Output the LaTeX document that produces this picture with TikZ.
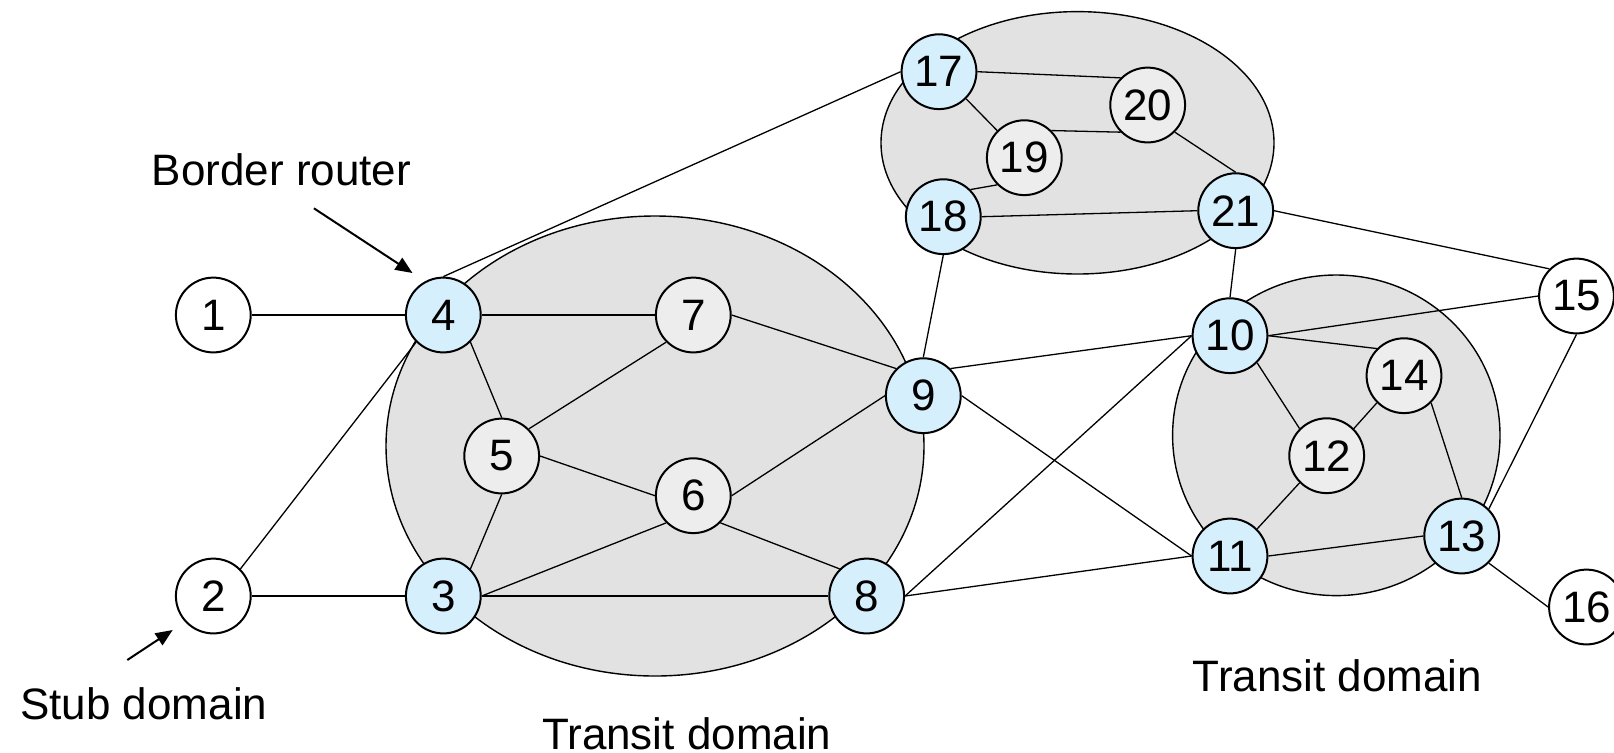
\documentclass[tikz,border=0pt]{standalone}
\usepackage{fontspec}
\setmainfont{Liberation Sans}
\usetikzlibrary{arrows.meta}
\definecolor{routerblue}{RGB}{214,239,252}
\definecolor{domaingray}{RGB}{226,226,226}
\definecolor{innergray}{RGB}{237,237,237}
\tikzset{
  router/.style={circle, draw=black, line width=1pt, minimum size=37.4pt, inner sep=0pt,
    font=\fontsize{22}{26}\selectfont},
  border/.style={router, fill=routerblue},
  interior/.style={router, fill=innergray},
  stubnode/.style={router, fill=white},
  domainshape/.style={draw=black, line width=0.7pt, fill=domaingray},
  link/.style={draw=black, line width=0.65pt},
  pointer/.style={draw=black, line width=1pt, -{Triangle[length=8.5pt,width=7pt]}},
  caption/.style={anchor=base, inner sep=0pt, font=\fontsize{22}{26}\selectfont},
}
\begin{document}
\begin{tikzpicture}[x=0.5pt, y=-0.5pt]
\useasboundingbox (0,0) rectangle (1614,752);
\clip (0,0) rectangle (1614,752);

% domains
\draw[domainshape] (655,446) ellipse [x radius=134.5pt, y radius=115pt];
\draw[domainshape] (1077.5,142.8) ellipse [x radius=98.25pt, y radius=65.6pt];
\draw[domainshape] (1336.3,435.3) ellipse [x radius=81.85pt, y radius=80.15pt];

% routers
\node[stubnode] (n1) at (213.3,315) {1};
\node[stubnode] (n2) at (213.3,596) {2};
\node[border] (n3) at (443.3,596) {3};
\node[border] (n4) at (443.3,315) {4};
\node[interior] (n5) at (501.7,456) {5};
\node[interior] (n6) at (693.3,495.7) {6};
\node[interior] (n7) at (693.3,315) {7};
\node[border] (n8) at (866.7,596) {8};
\node[border] (n9) at (923.3,395.7) {9};
\node[border] (n10) at (1230,335.7) {10};
\node[border] (n11) at (1230,556) {11};
\node[interior] (n12) at (1326.7,455.7) {12};
\node[border] (n13) at (1461.7,536) {13};
\node[interior] (n14) at (1404,375.7) {14};
\node[stubnode] (n15) at (1576.5,296) {15};
\node[stubnode] (n16) at (1586.5,607) {16};
\node[border] (n17) at (939,71.7) {17};
\node[border] (n18) at (943.3,216.7) {18};
\node[interior] (n19) at (1024.3,157.7) {19};
\node[interior] (n20) at (1147.7,105) {20};
\node[border] (n21) at (1235.7,210.7) {21};

% links
\draw[link] (n1.east) -- (n4.west);
\draw[link] (n2.north east) -- (n4.south west);
\draw[link] (n2.east) -- (n3.west);
\draw[link] (n4.north) -- (n17.west);
\draw[link] (n4.east) -- (n7.west);
\draw[link] (n4.south east) -- (n5.north);
\draw[link] (n5.north east) -- (n7.south west);
\draw[link] (n5.east) -- (n6.west);
\draw[link] (n5.south) -- (n3.north east);
\draw[link] (n3.east) -- (n6.south west);
\draw[link] (n3.east) -- (n8.west);
\draw[link] (n6.south east) -- (n8.north west);
\draw[link] (n6.east) -- (n9.west);
\draw[link] (n7.east) -- (n9.north west);
\draw[link] (n9.north) -- (n18.south);
\draw[link] (n9.north east) -- (n10.west);
\draw[link] (n9.east) -- (n11.west);
\draw[link] (n8.east) -- (n10.west);
\draw[link] (n8.east) -- (n11.west);
\draw[link] (n17.east) -- (n20.north west);
\draw[link] (n17.south east) -- (n19.north west);
\draw[link] (n19.north east) -- (n20.south west);
\draw[link] (n19.south west) -- (n18.north east);
\draw[link] (n18.east) -- (n21.west);
\draw[link] (n20.south east) -- (n21.north);
\draw[link] (n21.south) -- (n10.north);
\draw[link] (n21.east) -- (n15.north west);
\draw[link] (n10.east) -- (n15.west);
\draw[link] (n10.east) -- (n14.north west);
\draw[link] (n10.south east) -- (n12.north west);
\draw[link] (n12.north east) -- (n14.south west);
\draw[link] (n12.south west) -- (n11.north east);
\draw[link] (n14.south east) -- (n13.north);
\draw[link] (n11.east) -- (n13.west);
\draw[link] (n13.north east) -- (n15.south);
\draw[link] (n13.south east) -- (n16.west);

% captions and pointers
\node[caption] (lblborder) at (281.5,185) {Border router};
\node[caption] (lblstub) at (143.8,719.3) {Stub domain};
\node[caption] (lbltransitA) at (686.8,749) {Transit domain};
\node[caption] (lbltransitB) at (1337.5,691.7) {Transit domain};
\coordinate (borderTail) at (313.9,208.3);
\coordinate (borderTip) at (412.5,273);
\coordinate (stubTail) at (127.3,660);
\coordinate (stubTip) at (172.7,630);
\draw[pointer] (borderTail) -- (borderTip);
\draw[pointer] (stubTail) -- (stubTip);
\end{tikzpicture}
\end{document}
